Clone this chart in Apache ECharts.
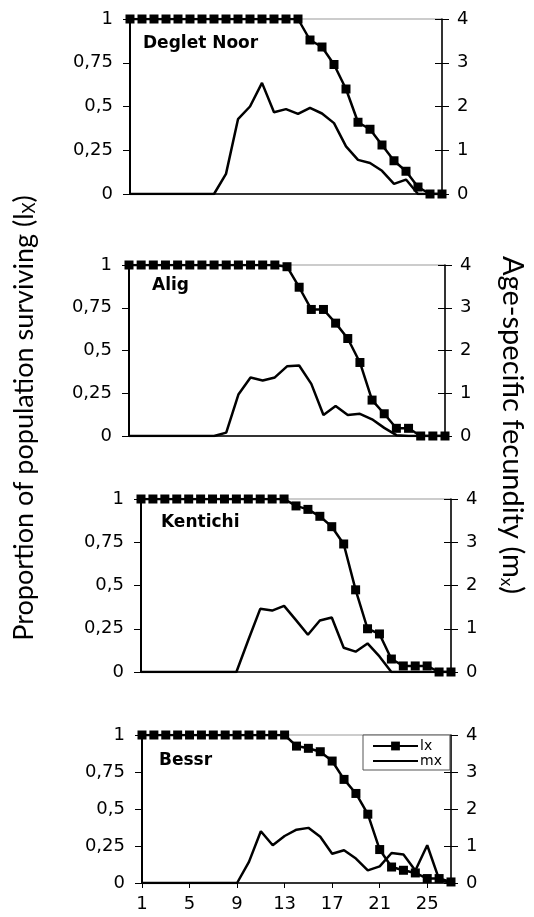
<!DOCTYPE html>
<html>
<head>
<meta charset="utf-8">
<script src="https://cdn.jsdelivr.net/npm/echarts@6/dist/echarts.min.js"></script>
<style>
html,body{margin:0;padding:0;background:#fff;}
#chart{width:534px;height:917px;}
</style>
</head>
<body>
<div id="chart"></div>
<script>
// ---- data ----
var ages = [1,2,3,4,5,6,7,8,9,10,11,12,13,14,15,16,17,18,19,20,21,22,23,24,25,26,27];
var cultivars = ['Deglet Noor', 'Alig', 'Kentichi', 'Bessr'];
var lxDegletNoor = [1,1,1,1,1,1,1,1,1,1,1,1,1,1,1,0.88,0.84,0.74,0.60,0.41,0.37,0.28,0.19,0.13,0.04,0,0];
var mxDegletNoor = [0,0,0,0,0,0,0,0,0.46,1.71,2.0,2.54,1.87,1.94,1.83,1.97,1.84,1.62,1.09,0.78,0.71,0.53,0.23,0.33,0,0,0];
var lxAlig = [1,1,1,1,1,1,1,1,1,1,1,1,1,0.99,0.87,0.74,0.74,0.66,0.57,0.43,0.21,0.13,0.045,0.045,0,0,0];
var mxAlig = [0,0,0,0,0,0,0,0,0.08,0.97,1.37,1.30,1.37,1.63,1.65,1.22,0.49,0.70,0.49,0.52,0.39,0.19,0.02,0,0,0,0];
var lxKentichi = [1,1,1,1,1,1,1,1,1,1,1,1,1,0.96,0.94,0.90,0.84,0.74,0.475,0.25,0.22,0.075,0.035,0.035,0.035,0,0];
var mxKentichi = [0,0,0,0,0,0,0,0,0,0.74,1.46,1.42,1.53,1.20,0.86,1.19,1.26,0.56,0.47,0.66,0.36,0,0,0,0,0,0];
var lxBessr = [1,1,1,1,1,1,1,1,1,1,1,1,1,0.925,0.91,0.887,0.824,0.70,0.605,0.465,0.226,0.108,0.086,0.068,0.03,0.03,0.007];
var mxBessr = [0,0,0,0,0,0,0,0,0,0.57,1.40,1.02,1.27,1.44,1.49,1.25,0.79,0.885,0.66,0.34,0.45,0.81,0.77,0.34,1.02,0.1,0];
var lxTicks = [0, 0.25, 0.5, 0.75, 1];
var mxTicks = [0, 1, 2, 3, 4];
var leftTitle = 'Proportion of population surviving';
var rightTitle = 'Age-specific fecundity';

var lxAll = [lxDegletNoor, lxAlig, lxKentichi, lxBessr];
var mxAll = [mxDegletNoor, mxAlig, mxKentichi, mxBessr];

// ---- layout ----
var grids = [
  {left:130, top:19, width:312, height:175},
  {left:129, top:265, width:316, height:171},
  {left:141, top:499, width:310, height:173},
  {left:142, top:735, width:309, height:148}
];
var labelPos = [[143,45],[152,287],[161,524],[159,762]];
var FONT = 'DejaVu Sans';

var option = {
  backgroundColor:'#fff',
  animation:false,
  grid:[], xAxis:[], yAxis:[], series:[],
  legend:{
    data:[{name:'lx'}, {name:'mx', itemStyle:{opacity:0}}],
    orient:'vertical',
    left:363, top:735,
    itemWidth:45, itemHeight:11, itemGap:1,
    padding:[4,8,2,9],
    borderColor:'#555', borderWidth:1,
    backgroundColor:'#fff',
    textStyle:{fontFamily:FONT, fontSize:14, color:'#000', padding:[0,0,0,-3]},
    inactiveColor:'#000'
  },
  graphic:[]
};

grids.forEach(function(g, i){
  option.grid.push({left:g.left, top:g.top, width:g.width, height:g.height, show:true,
    borderColor:'#999', borderWidth:1, backgroundColor:'transparent'});
  var last = (i === 3);
  option.xAxis.push({
    type:'category', gridIndex:i, data:ages, boundaryGap:false,
    axisLine:{lineStyle:{color:'#000', width:1.5}},
    axisTick:{show:last, interval:3, length:5, lineStyle:{color:'#000', width:1}},
    axisLabel:{show:last, interval:3, fontFamily:FONT, fontSize:18, color:'#000', margin:12},
    splitLine:{show:false}
  });
  // left lx axis
  option.yAxis.push({
    type:'value', gridIndex:i, position:'left', min:lxTicks[0], max:lxTicks[lxTicks.length-1], interval:0.25,
    axisLine:{show:true, lineStyle:{color:'#000', width:2}},
    axisTick:{show:true, length:7, lineStyle:{color:'#000', width:1}},
    axisLabel:{fontFamily:FONT, fontSize:18, color:'#000', margin:17,
      formatter:function(v){ return String(v).replace('.', ','); }},
    splitLine:{show:false}
  });
  // right mx axis
  option.yAxis.push({
    type:'value', gridIndex:i, position:'right', min:mxTicks[0], max:mxTicks[mxTicks.length-1], interval:1,
    axisLine:{show:true, lineStyle:{color:'#000', width:1.5}},
    axisTick:{show:true, length:7, lineStyle:{color:'#000', width:1}},
    axisLabel:{fontFamily:FONT, fontSize:18, color:'#000', margin:15},
    splitLine:{show:false}
  });
  // inside ticks for right axis (cross ticks)
  option.yAxis.push({
    type:'value', gridIndex:i, position:'right', min:mxTicks[0], max:mxTicks[mxTicks.length-1], interval:1,
    axisLine:{show:false},
    axisTick:{show:true, inside:true, length:7, lineStyle:{color:'#000', width:1}},
    axisLabel:{show:false},
    splitLine:{show:false}
  });
  option.series.push({
    name:'mx', type:'line', xAxisIndex:i, yAxisIndex:i*3+1,
    data:mxAll[i], symbol:'none', lineStyle:{color:'#000', width:2.5}, itemStyle:{color:'#000'}, z:3
  });
  option.series.push({
    name:'lx', type:'line', xAxisIndex:i, yAxisIndex:i*3,
    data:lxAll[i], symbol:'rect', symbolSize:9, showSymbol:true, showAllSymbol:true,
    lineStyle:{color:'#000', width:2.5}, itemStyle:{color:'#000'}, z:4
  });
  option.graphic.push({
    type:'text', left:labelPos[i][0], top:labelPos[i][1]-10,
    style:{text:cultivars[i], font:'bold 17px "DejaVu Sans"', fill:'#000'}
  });
});

option.graphic.push({
  type:'text', x:24, y:418, rotation:Math.PI/2,
  style:{
    text:'{a|' + leftTitle + ' (l}{s|X}{a|)}',
    align:'center', verticalAlign:'middle',
    rich:{
      a:{fontFamily:'Lato', fontSize:27, fill:'#000', color:'#000'},
      s:{fontFamily:'Lato', fontSize:17, fill:'#000', color:'#000', padding:[12,0,0,0]}
    }
  }
});
option.graphic.push({
  type:'text', x:512, y:425, rotation:-Math.PI/2,
  style:{
    text:'{a|' + rightTitle + ' (m}{s|x}{a|)}',
    align:'center', verticalAlign:'middle',
    rich:{
      a:{fontFamily:'Lato', fontSize:29, fill:'#000', color:'#000'},
      s:{fontFamily:'Lato', fontSize:17, fill:'#000', color:'#000', padding:[12,0,0,0]}
    }
  }
});

var chart = echarts.init(document.getElementById('chart'), null, {renderer:'canvas'});
chart.setOption(option);
</script>
</body>
</html>
